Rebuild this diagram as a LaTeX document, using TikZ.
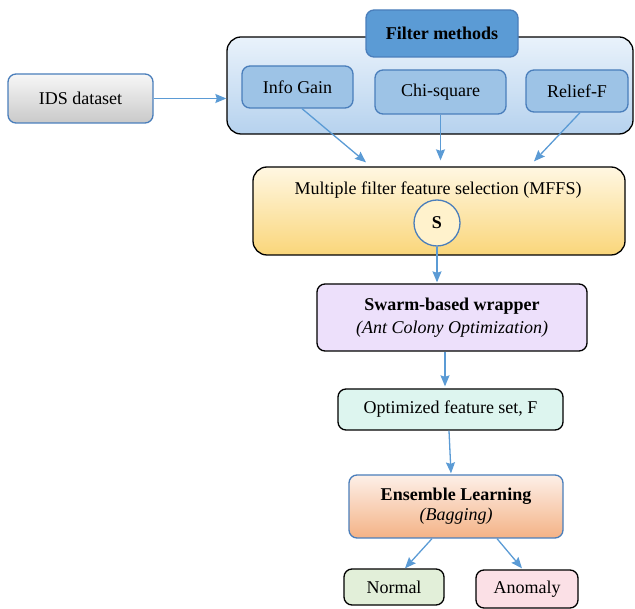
\documentclass[tikz,border=0pt]{standalone}
\usepackage{fontspec}
\setmainfont{Liberation Serif}
\usetikzlibrary{arrows.meta,shapes.geometric}

\definecolor{arrowblue}{HTML}{5B9BD5}
\definecolor{edgeblue}{HTML}{4A7EBB}
\definecolor{headfill}{HTML}{5B9BD5}
\definecolor{methodfill}{HTML}{9DC3E6}
\definecolor{contop}{HTML}{E9F2FB}
\definecolor{conbot}{HTML}{B6D2EE}
\definecolor{mffstop}{HTML}{FFF7E2}
\definecolor{mffsbot}{HTML}{FAD67A}
\definecolor{circfill}{HTML}{FFF2CC}
\definecolor{swarmfill}{HTML}{EDE0FB}
\definecolor{optfill}{HTML}{DDF5EF}
\definecolor{enstop}{HTML}{FDF0E8}
\definecolor{ensbot}{HTML}{F4B286}
\definecolor{normfill}{HTML}{E2EFD9}
\definecolor{anomfill}{HTML}{FBE0E6}
\definecolor{idstop}{HTML}{F7F7F7}
\definecolor{idsbot}{HTML}{C9C9C9}

\tikzset{
  every node/.style={font=\fontsize{18}{22}\selectfont, inner sep=0pt},
  box/.style={rectangle, rounded corners=8pt, line width=1.3pt, draw=black},
  bluebox/.style={box, draw=edgeblue},
  arr/.style={draw=arrowblue, line width=1.3pt,
    -{Stealth[length=11pt,width=9pt,inset=1.5pt]}},
}

\begin{document}
\begin{tikzpicture}[x=1pt,y=-1pt]
\useasboundingbox (0,0) rectangle (635,609);

% input data
\node[bluebox, top color=idstop, bottom color=idsbot,
      minimum width=145pt, minimum height=49pt] (ids) at (80.5,98.5) {IDS dataset};

% filter methods group
\node[box, rounded corners=14pt, top color=contop, bottom color=conbot,
      minimum width=406pt, minimum height=97pt] (filt) at (430,85.5) {};
\node[bluebox, fill=headfill, draw=edgeblue,
      minimum width=152pt, minimum height=47pt] (fm) at (442,33.5) {\textbf{Filter methods}};
\node[bluebox, fill=methodfill, minimum width=111pt, minimum height=42pt] (ig) at (297.5,87) {Info Gain};
\node[bluebox, fill=methodfill, minimum width=131pt, minimum height=44pt] (chi) at (440.5,92) {Chi-square};
\node[bluebox, fill=methodfill, minimum width=102pt, minimum height=42pt] (rel) at (577,91) {Relief-F};

% multiple filter feature selection
\node[box, rounded corners=14pt, top color=mffstop, bottom color=mffsbot,
      minimum width=372pt, minimum height=88pt] (mffs) at (439,211) {};
\node (mffstext) at (438,190) {Multiple filter feature selection (MFFS)};
\node[circle, draw=edgeblue, line width=1.3pt, fill=circfill,
      minimum size=46pt] (s) at (437,223) {\textbf{S}};

% wrapper stage
\node[box, fill=swarmfill, minimum width=270pt, minimum height=67pt,
      align=center, font=\fontsize{18}{23}\selectfont] (swarm) at (452,317.5)
      {\textbf{Swarm-based wrapper}\\\textit{(Ant Colony Optimization)}};
\node[box, fill=optfill, minimum width=225pt, minimum height=41pt] (opt) at (450.5,409.5)
      {Optimized feature set, F};

% classification
\node[bluebox, top color=enstop, bottom color=ensbot, minimum width=214pt, minimum height=63pt,
      align=center, font=\fontsize{18}{20}\selectfont] (ens) at (456,506.5)
      {\textbf{Ensemble Learning}\\\textit{(Bagging)}};
\node[box, fill=normfill, minimum width=100pt, minimum height=36pt] (normal) at (394,587) {Normal};
\node[box, fill=anomfill, minimum width=102pt, minimum height=38pt] (anomaly) at (527,589) {Anomaly};

% connectors
\draw[arr] (ids.east) -- (ids.east -| filt.west);
\draw[arr] ([xshift=4.5pt]ig.south) -- ([xshift=-73pt,yshift=4pt]mffs.north);
\draw[arr] (chi.south) -- ([yshift=6pt]chi.south |- mffs.north);
\draw[arr] ([xshift=3pt]rel.south) -- ([xshift=95pt,yshift=5pt]mffs.north);
\draw[arr] (s.south) -- ([yshift=1pt]s.south |- swarm.north);
\draw[arr] ([xshift=-7pt]swarm.south) -- ([xshift=-5.5pt,yshift=2pt]opt.north);
\draw[arr] ([xshift=-1.5pt]opt.south) -- ([xshift=-5pt,yshift=1pt]ens.north);
\draw[arr] ([xshift=-24pt]ens.south) -- ([xshift=11pt]normal.north);
\draw[arr] ([xshift=41pt]ens.south) -- ([xshift=-5pt,yshift=1pt]anomaly.north);
\end{tikzpicture}
\end{document}
